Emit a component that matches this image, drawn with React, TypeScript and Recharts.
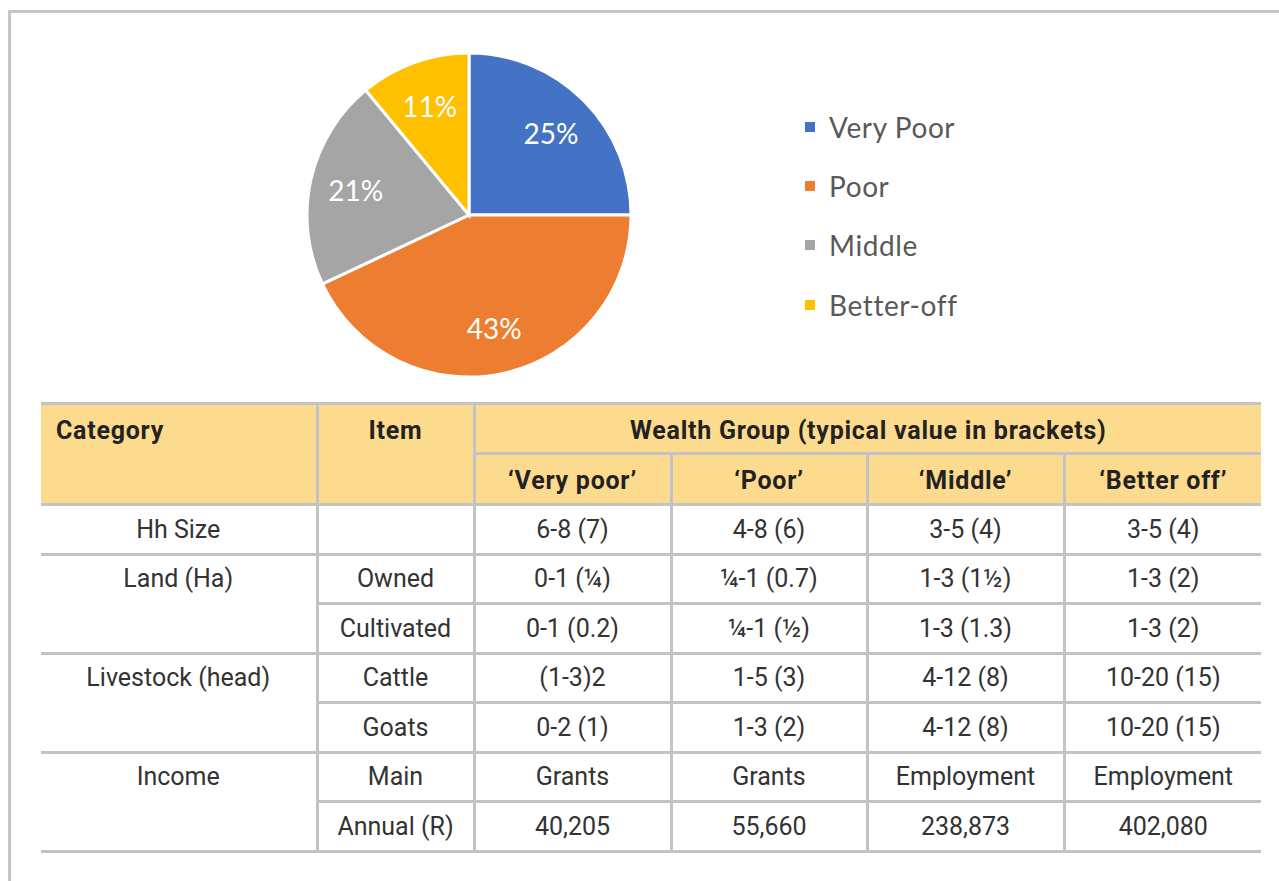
import { PieChart, Pie, Cell, Legend } from 'recharts';

const groupNames = ['Very Poor', 'Poor', 'Middle', 'Better-off'];
const groupShares = [25, 43, 21, 11];
const groupColors = ['#4472C4', '#ED7D31', '#A5A5A5', '#FFC000'];

const headerGroups = ['‘Very poor’', '‘Poor’', '‘Middle’', '‘Better off’'];

const hhSize = ['6-8 (7)', '4-8 (6)', '3-5 (4)', '3-5 (4)'];
const landOwned = ['0-1 (¼)', '¼-1 (0.7)', '1-3 (1½)', '1-3 (2)'];
const landCultivated = ['0-1 (0.2)', '¼-1 (½)', '1-3 (1.3)', '1-3 (2)'];
const cattle = ['(1-3)2', '1-5 (3)', '4-12 (8)', '10-20 (15)'];
const goats = ['0-2 (1)', '1-3 (2)', '4-12 (8)', '10-20 (15)'];
const incomeMain = ['Grants', 'Grants', 'Employment', 'Employment'];
const incomeAnnual = ['40,205', '55,660', '238,873', '402,080'];

const tableGroups = [
  { category: 'Hh Size', rows: [{ item: '', values: hhSize }] },
  {
    category: 'Land (Ha)',
    rows: [
      { item: 'Owned', values: landOwned },
      { item: 'Cultivated', values: landCultivated },
    ],
  },
  {
    category: 'Livestock (head)',
    rows: [
      { item: 'Cattle', values: cattle },
      { item: 'Goats', values: goats },
    ],
  },
  {
    category: 'Income',
    rows: [
      { item: 'Main', values: incomeMain },
      { item: 'Annual (R)', values: incomeAnnual },
    ],
  },
];

const pieData = groupNames.map((name, i) => ({ name, value: groupShares[i] }));

const RADIAN = Math.PI / 180;
const LINE = '3px solid #C3C3C5';
const HEAD_BG = '#FDDB8E';
const ROW_H = 46.5; // cell content height, 3px border on top of it

function SliceLabel(props: any) {
  const { cx, cy, midAngle, value } = props;
  const r = 116;
  const x = cx + r * Math.cos(-midAngle * RADIAN);
  const y = cy + r * Math.sin(-midAngle * RADIAN);
  return (
    <text
      x={x}
      y={y}
      fill="#fff"
      textAnchor="middle"
      dominantBaseline="central"
      fontSize={28}
      fontFamily="Lato, sans-serif"
    >
      {`${value}%`}
    </text>
  );
}

function LegendList(props: any) {
  const payload = [...(props.payload || [])].sort(
    (a: any, b: any) => groupNames.indexOf(a.value) - groupNames.indexOf(b.value)
  );
  return (
    <ul style={{ listStyle: 'none', margin: 0, padding: 0 }}>
      {payload.map((entry: any) => (
        <li
          key={entry.value}
          style={{ height: 59.3, display: 'flex', alignItems: 'center' }}
        >
          <span
            style={{
              display: 'inline-block',
              width: 10,
              height: 10,
              marginRight: 14,
              background: groupColors[groupNames.indexOf(entry.value)],
            }}
          />
          <span
            style={{
              fontFamily: 'Lato, sans-serif',
              fontSize: 28,
              letterSpacing: 0.6,
              color: '#595959',
            }}
          >
            {entry.value}
          </span>
        </li>
      ))}
    </ul>
  );
}

const headCell: React.CSSProperties = {
  background: HEAD_BG,
  fontWeight: 700,
  color: '#222',
  padding: 0,
  textAlign: 'center',
  letterSpacing: 0.75,
};

const bodyCell: React.CSSProperties = {
  padding: 0,
  textAlign: 'center',
  color: '#333',
  height: ROW_H,
};

const topHeadBox: React.CSSProperties = {
  height: 44,
  paddingTop: 3,
  display: 'flex',
  alignItems: 'center',
  justifyContent: 'center',
};

export default function App() {
  return (
    <div
      style={{
        position: 'absolute',
        left: 0,
        top: 0,
        width: 1279,
        height: 881,
        overflow: 'hidden',
        background: '#fff',
      }}
    >
      <div
        style={{
          position: 'absolute',
          left: 8,
          top: 10,
          width: 1400,
          height: 1000,
          border: '3px solid #C6C6C8',
        }}
      />
      <div style={{ position: 'absolute', left: 0, top: 0 }}>
        <PieChart width={1279} height={400} margin={{ top: 0, right: 0, bottom: 0, left: 0 }}>
          <Pie
            data={pieData}
            dataKey="value"
            nameKey="name"
            cx={469}
            cy={215}
            outerRadius={162}
            startAngle={90}
            endAngle={-270}
            stroke="#fff"
            strokeWidth={3}
            label={SliceLabel}
            labelLine={false}
            isAnimationActive={false}
          >
            {pieData.map((d, i) => (
              <Cell key={d.name} fill={groupColors[i]} />
            ))}
          </Pie>
          <Legend
            content={LegendList}
            layout="vertical"
            align="right"
            verticalAlign="top"
            wrapperStyle={{ left: 805, top: 97, width: 300 }}
          />
        </PieChart>
      </div>
      <table
        style={{
          position: 'absolute',
          left: 41,
          top: 402,
          width: 1220,
          borderCollapse: 'collapse',
          tableLayout: 'fixed',
          fontFamily: 'Roboto, sans-serif',
          fontSize: 25,
        }}
      >
        <colgroup>
          <col style={{ width: 276 }} />
          <col style={{ width: 157 }} />
          <col style={{ width: 197 }} />
          <col style={{ width: 196 }} />
          <col style={{ width: 197 }} />
          <col style={{ width: 197 }} />
        </colgroup>
        <thead>
          <tr>
            <th
              rowSpan={2}
              style={{ ...headCell, textAlign: 'left', verticalAlign: 'top', borderTop: LINE, borderBottom: LINE, borderRight: LINE }}
            >
              <div style={{ ...topHeadBox, justifyContent: 'flex-start', paddingLeft: 15 }}>Category</div>
            </th>
            <th
              rowSpan={2}
              style={{ ...headCell, verticalAlign: 'top', borderTop: LINE, borderBottom: LINE, borderRight: LINE }}
            >
              <div style={topHeadBox}>Item</div>
            </th>
            <th colSpan={4} style={{ ...headCell, borderTop: LINE, borderBottom: LINE }}>
              <div style={topHeadBox}>Wealth Group (typical value in brackets)</div>
            </th>
          </tr>
          <tr>
            {headerGroups.map((g, i) => (
              <th
                key={g}
                style={{ ...headCell, height: 46, paddingTop: 2, borderBottom: LINE, borderRight: i < 3 ? LINE : 'none' }}
              >
                {g}
              </th>
            ))}
          </tr>
        </thead>
        <tbody>
          {tableGroups.map((grp) =>
            grp.rows.map((row, ri) => (
              <tr key={grp.category + row.item}>
                {ri === 0 && (
                  <td
                    rowSpan={grp.rows.length}
                    style={{ ...bodyCell, verticalAlign: 'top', borderBottom: LINE, borderRight: LINE }}
                  >
                    <div style={{ height: ROW_H, display: 'flex', alignItems: 'center', justifyContent: 'center' }}>
                      {grp.category}
                    </div>
                  </td>
                )}
                <td style={{ ...bodyCell, borderBottom: LINE, borderRight: LINE }}>{row.item}</td>
                {row.values.map((v, vi) => (
                  <td
                    key={vi}
                    style={{ ...bodyCell, borderBottom: LINE, borderRight: vi < 3 ? LINE : 'none' }}
                  >
                    {v}
                  </td>
                ))}
              </tr>
            ))
          )}
        </tbody>
      </table>
    </div>
  );
}
